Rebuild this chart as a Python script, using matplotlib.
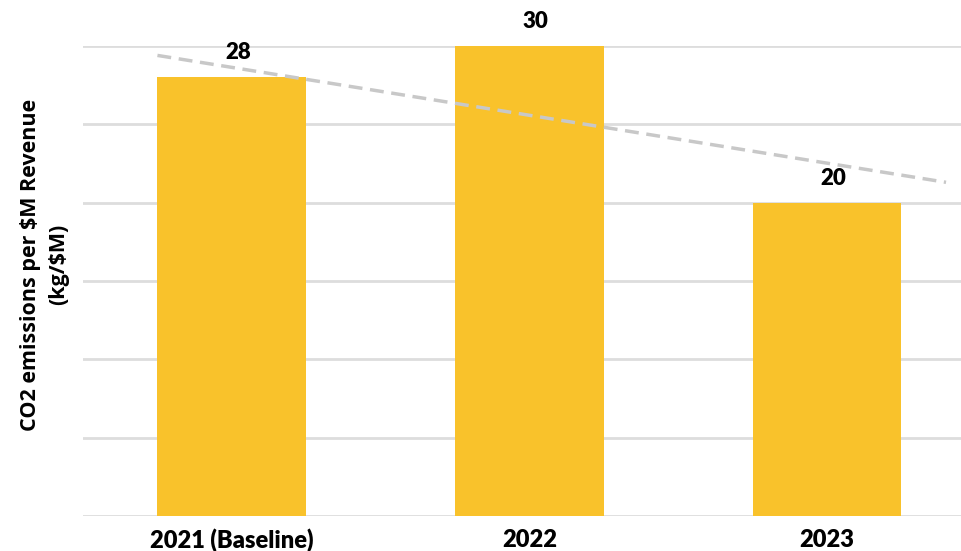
import matplotlib.pyplot as plt

categories = ["2021 (Baseline)", "2022", "2023"]
values = [28, 30, 20]
labels = ["28", "30", "20"]

# trend line end points (category position, value)
trend_x = [-0.25, 2.4]
trend_y = [29.4, 21.3]

bar_color = "#F9C22B"
grid_color = "#DDDDDD"
label_font = dict(family="Lato", fontweight="heavy")

fig = plt.figure(figsize=(9.61, 5.51), dpi=100)
ax = fig.add_axes([0.0864, 0.0635, 0.929, 0.853])

x = range(len(categories))
bars = ax.bar(x, values, width=0.5, color=bar_color, zorder=2)
ax.plot(trend_x, trend_y, color="#C8C8C8", linewidth=2.5, linestyle=(0, (4, 2.2)), zorder=3)

for b, v, t in zip(bars, values, labels):
    ax.text(b.get_x() + b.get_width() / 2 + 0.02, v + 0.9, t, ha="center", va="bottom",
            fontsize=16, color="black", clip_on=False, **label_font)

ax.set_xlim(-0.5, 2.5)
ax.set_ylim(0, 30)
ax.set_yticks(range(0, 31, 5))
ax.set_yticklabels([])
ax.tick_params(axis="y", length=0)
ax.tick_params(axis="x", length=0, pad=9)
ax.set_xticks(list(x))
ax.set_xticklabels(categories, fontsize=17, **label_font)
ax.grid(axis="y", color=grid_color, linewidth=2, zorder=0)
for s in ax.spines.values():
    s.set_visible(False)

fig.text(0.046, 0.52, "CO2 emissions per $M Revenue\n(kg/$M)", rotation=90,
         ha="center", va="center", fontsize=15.5, fontweight="bold",
         family="Open Sans", linespacing=1.45)

fig.savefig("out.png", dpi=100)
